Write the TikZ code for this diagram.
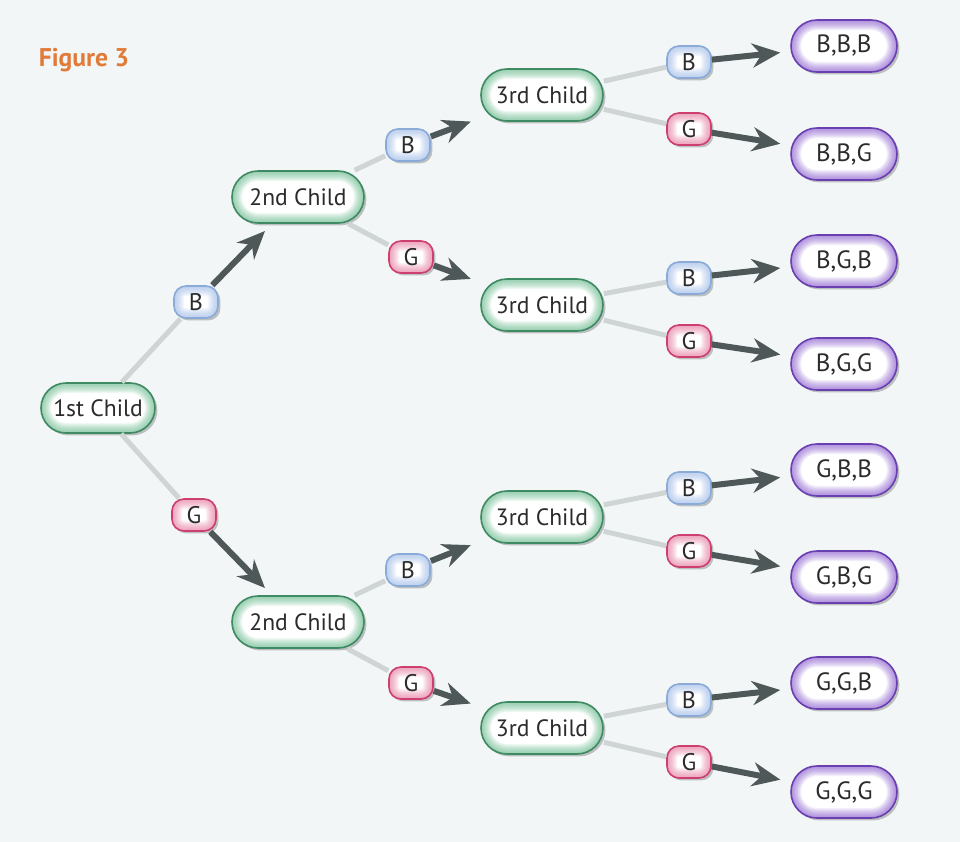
\documentclass[tikz,border=0pt]{standalone}
\usepackage{fontspec}
\setmainfont{PT Sans}
\usetikzlibrary{arrows.meta,shadows}
\definecolor{bg}{HTML}{F2F6F7}
\definecolor{txt}{HTML}{2B2B2B}
\definecolor{fig}{HTML}{E07B39}
\definecolor{grB}{HTML}{3E8A62}
\definecolor{grG}{HTML}{62B98A}
\definecolor{blB}{HTML}{8AAAD8}
\definecolor{blG}{HTML}{9DBBEA}
\definecolor{pkB}{HTML}{CC3F6E}
\definecolor{pkG}{HTML}{E8759C}
\definecolor{puB}{HTML}{6A3FB0}
\definecolor{puG}{HTML}{8A5CD0}
\definecolor{arrc}{HTML}{4F5858}
\definecolor{litc}{HTML}{CFD5D5}
\tikzset{
  glow/.style n args={5}{draw=#1, line width=0.8pt, fill=white,
    minimum width=#3, minimum height=#4, rounded corners=#5, inner sep=0pt,
    text=txt, font=\fontsize{11.8}{14}\selectfont,
    drop shadow={shadow xshift=1.2pt,shadow yshift=-1.2pt,opacity=0.22,fill=black},
    path picture={
      \foreach \lw in {10,9,...,1}{
        \draw[draw=#2,line width=\lw pt,opacity=0.095,rounded corners=#5]
          (path picture bounding box.south west) rectangle (path picture bounding box.north east);}
    }},
  first/.style={glow={grB}{grG}{57pt}{25pt}{12.5pt}},
  second/.style={glow={grB}{grG}{66pt}{26pt}{13pt}},
  third/.style={glow={grB}{grG}{61pt}{26pt}{13pt}},
  lb/.style={glow={blB}{blG}{22pt}{16pt}{6pt}, font=\fontsize{12}{14}\selectfont},
  lg/.style={glow={pkB}{pkG}{22pt}{16pt}{6pt}, font=\fontsize{12}{14}\selectfont},
  leaf/.style={glow={puB}{puG}{53pt}{26pt}{13pt}, font=\fontsize{12.5}{14}\selectfont},
  lite/.style={draw=litc, line width=2.5pt},
  arr/.style={draw=arrc, line width=3pt, shorten >=5pt,
    -{Stealth[length=14pt,width=12pt,inset=4.5pt]}},
}
\begin{document}
\begin{tikzpicture}[x=0.5pt,y=-0.5pt]
\fill[bg] (0,0) rectangle (960,842);
\node[font=\fontsize{12.8}{15}\selectfont\bfseries, text=fig] (title) at (84,60) {Figure 3};
% children
\node[first]  (c1)  at (98,408)  {1st Child};
\node[second] (c2a) at (298,197) {2nd Child};
\node[second] (c2b) at (298,622) {2nd Child};
\node[third]  (c3a) at (542,95)  {3rd Child};
\node[third]  (c3b) at (542,305) {3rd Child};
\node[third]  (c3c) at (542,517) {3rd Child};
\node[third]  (c3d) at (542,728) {3rd Child};
% labels
\node[lb] (l1b) at (196,302) {B};
\node[lg] (l1g) at (194,515) {G};
\node[lb] (l2ab) at (408,145) {B};
\node[lg] (l2ag) at (411,257) {G};
\node[lb] (l2bb) at (408,570) {B};
\node[lg] (l2bg) at (411,683) {G};
\node[lb] (l3ab) at (689,62)  {B};
\node[lg] (l3ag) at (689,129) {G};
\node[lb] (l3bb) at (689,278) {B};
\node[lg] (l3bg) at (689,341) {G};
\node[lb] (l3cb) at (689,488) {B};
\node[lg] (l3cg) at (689,551) {G};
\node[lb] (l3db) at (689,700) {B};
\node[lg] (l3dg) at (689,762) {G};
% leaves
\node[leaf] (bbb) at (844,46)  {B,B,B};
\node[leaf] (bbg) at (844,154) {B,B,G};
\node[leaf] (bgb) at (844,261) {B,G,B};
\node[leaf] (bgg) at (844,364) {B,G,G};
\node[leaf] (gbb) at (844,470) {G,B,B};
\node[leaf] (gbg) at (844,577) {G,B,G};
\node[leaf] (ggb) at (844,683) {G,G,B};
\node[leaf] (ggg) at (844,792) {G,G,G};
% connectors
\draw[lite] (c1) -- (l1b);   \draw[arr] (l1b) -- (c2a);
\draw[lite] (c1) -- (l1g);   \draw[arr] (l1g) -- (c2b);
\draw[lite] (c2a) -- (l2ab); \draw[arr] (l2ab) -- (c3a);
\draw[lite] (c2a) -- (l2ag); \draw[arr] (l2ag) -- (c3b);
\draw[lite] (c2b) -- (l2bb); \draw[arr] (l2bb) -- (c3c);
\draw[lite] (c2b) -- (l2bg); \draw[arr] (l2bg) -- (c3d);
\draw[lite] (c3a) -- (l3ab); \draw[arr] (l3ab) -- (bbb);
\draw[lite] (c3a) -- (l3ag); \draw[arr] (l3ag) -- (bbg);
\draw[lite] (c3b) -- (l3bb); \draw[arr] (l3bb) -- (bgb);
\draw[lite] (c3b) -- (l3bg); \draw[arr] (l3bg) -- (bgg);
\draw[lite] (c3c) -- (l3cb); \draw[arr] (l3cb) -- (gbb);
\draw[lite] (c3c) -- (l3cg); \draw[arr] (l3cg) -- (gbg);
\draw[lite] (c3d) -- (l3db); \draw[arr] (l3db) -- (ggb);
\draw[lite] (c3d) -- (l3dg); \draw[arr] (l3dg) -- (ggg);
\end{tikzpicture}
\end{document}
